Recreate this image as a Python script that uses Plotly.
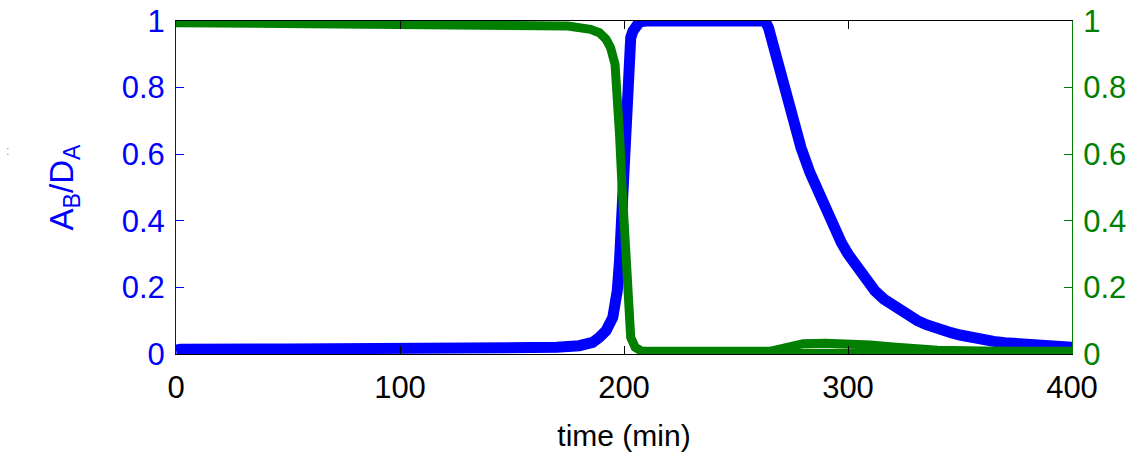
import plotly.graph_objects as go

# ---- data ----
t_blue = [0, 2, 50, 100, 150, 170, 180, 186, 189, 192, 195, 197, 198, 199, 200, 200.5,
          201, 202, 203, 204, 205, 207, 210, 263, 264.5, 266, 268, 270, 272, 275, 279,
          283, 287, 290, 293, 297, 300, 304, 308, 312, 316, 320, 323, 327, 331, 335,
          338, 342, 346, 350, 353, 357, 360, 365, 370, 375, 380, 385, 390, 395, 400]
ab_da = [0.012, 0.014, 0.015, 0.015, 0.016, 0.02, 0.025, 0.035, 0.05, 0.07, 0.11, 0.19,
         0.28, 0.44, 0.64, 0.74, 0.82, 0.91, 0.95, 0.97, 0.985, 0.998, 1.0, 1.0, 0.98,
         0.94, 0.88, 0.83, 0.78, 0.71, 0.62, 0.545, 0.48, 0.44, 0.39, 0.335, 0.30, 0.26,
         0.225, 0.19, 0.165, 0.145, 0.13, 0.115, 0.10, 0.088, 0.08, 0.071, 0.064, 0.057,
         0.052, 0.047, 0.043, 0.038, 0.034, 0.031, 0.028, 0.026, 0.024, 0.022, 0.02]

t_green = [0, 100, 150, 175, 185, 189, 192, 194, 196, 197, 198, 199, 200, 201, 202,
           203, 205, 208, 265, 268, 271, 275, 280, 290, 300, 310, 320, 330, 340, 360, 400]
green_vals = [0.995, 0.993, 0.99, 0.985, 0.975, 0.965, 0.945, 0.92, 0.87, 0.80, 0.66,
              0.52, 0.38, 0.22, 0.10, 0.05, 0.02, 0.008, 0.008, 0.012, 0.02, 0.027,
              0.031, 0.032, 0.031, 0.027, 0.021, 0.016, 0.011, 0.009, 0.008]

t_green_floor = [265, 340]
green_floor = [0.004, 0.004]

x_ticks = [0, 100, 200, 300, 400]
y_ticks = [0, 0.2, 0.4, 0.6, 0.8, 1]

BLUE = "#0000ff"
GREEN = "#007f00"
FONT = "Liberation Sans, Arial, Helvetica, sans-serif"

fig = go.Figure()
fig.add_trace(go.Scatter(x=t_blue, y=ab_da, mode="lines",
                         line=dict(color=BLUE, width=11), yaxis="y"))
fig.add_trace(go.Scatter(x=t_green_floor, y=green_floor, mode="lines",
                         line=dict(color=GREEN, width=8), yaxis="y2"))
fig.add_trace(go.Scatter(x=t_green, y=green_vals, mode="lines",
                         line=dict(color=GREEN, width=9), yaxis="y2"))

fig.update_layout(
    width=1134, height=462,
    margin=dict(l=176, r=62, t=21, b=108),
    paper_bgcolor="white", plot_bgcolor="white",
    showlegend=False,
    font=dict(family=FONT, size=31, color="black"),
    xaxis=dict(range=[0, 400], tickvals=x_ticks, ticks="inside", ticklen=8,
               tickcolor="black", showline=True, linecolor="black", linewidth=1,
               mirror="ticks", showgrid=False, zeroline=False, automargin=False,
               tickfont=dict(family=FONT, size=31, color="black"),
               ticklabelstandoff=6,
               title=dict(text="time (min)", font=dict(family=FONT, size=30, color="black"),
                          standoff=20)),
    yaxis=dict(range=[0, 1], tickvals=y_ticks, ticks="inside", ticklen=8,
               tickcolor=BLUE, showline=True, linecolor=BLUE, linewidth=1,
               showgrid=False, zeroline=False, automargin=False,
               tickfont=dict(family=FONT, size=31, color=BLUE),
               ticklabelstandoff=4,
               title=dict(text="A<sub>B</sub>/D<sub>A</sub>",
                          font=dict(family=FONT, size=33, color=BLUE), standoff=38)),
    yaxis2=dict(range=[0, 1], tickvals=y_ticks, ticks="inside", ticklen=8,
                overlaying="y", side="right", automargin=False,
                tickcolor=GREEN, showline=True, linecolor=GREEN, linewidth=1,
                showgrid=False, zeroline=False,
                tickfont=dict(family=FONT, size=31, color=GREEN),
                ticklabelstandoff=4),
)

fig.add_annotation(text=":", x=-0.192, y=0.61, xref="paper", yref="paper",
                   showarrow=False, font=dict(size=12, color=GREEN), opacity=0.6,
                   xanchor="left")

fig.write_html("out.html")
